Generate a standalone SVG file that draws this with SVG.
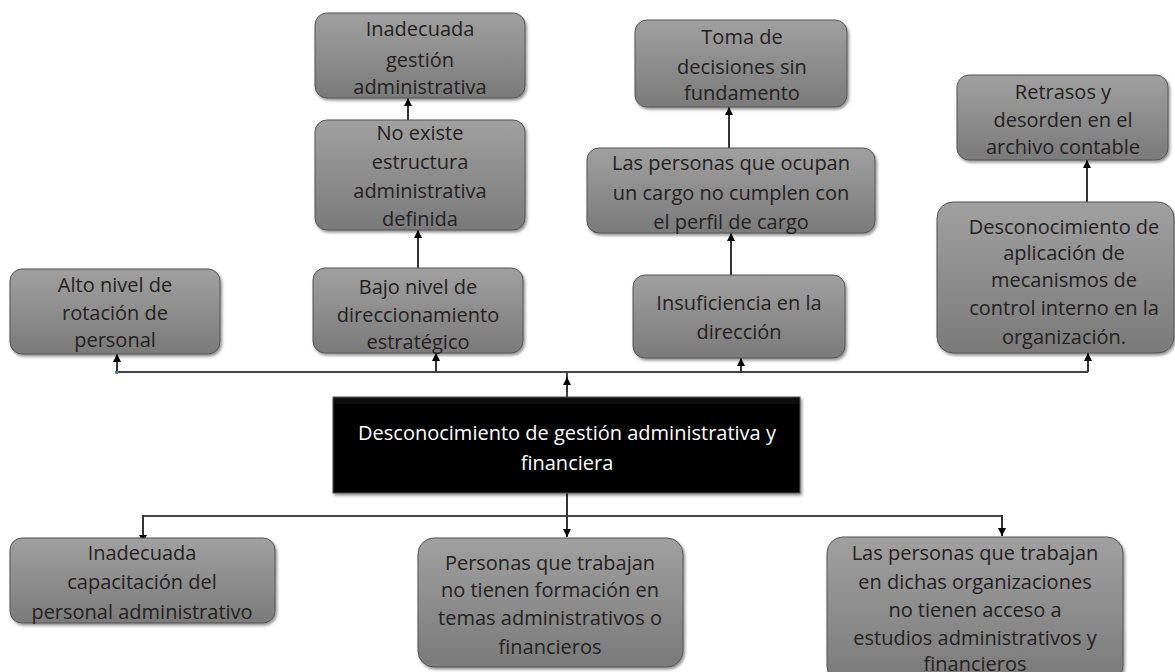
<svg xmlns="http://www.w3.org/2000/svg" width="1175" height="672" viewBox="0 0 1175 672">
<defs>
<linearGradient id="g" x1="0" y1="0" x2="0" y2="1"><stop offset="0" stop-color="#a0a0a0"/><stop offset="1" stop-color="#7a7a7a"/></linearGradient>
<linearGradient id="gb" x1="0" y1="0" x2="0" y2="1"><stop offset="0" stop-color="#111"/><stop offset="0.12" stop-color="#000"/><stop offset="1" stop-color="#000"/></linearGradient>
<filter id="sh" x="-10%" y="-10%" width="125%" height="130%"><feDropShadow dx="1.5" dy="2" stdDeviation="1.5" flood-color="#000" flood-opacity="0.45"/></filter>
<marker id="ah" viewBox="0 0 10 10" refX="10" refY="5" markerWidth="8" markerHeight="8" markerUnits="userSpaceOnUse" orient="auto"><path d="M0,0 L10,5 L0,10 z" fill="#000"/></marker>
</defs>
<style>
.box{fill:url(#g);stroke:#555;stroke-width:1;filter:url(#sh)}
.t{font-family:"Open Sans","Noto Sans",sans-serif;font-size:20px;fill:#262222;text-anchor:middle}
.w{font-family:"Open Sans","Noto Sans",sans-serif;font-size:20px;fill:#fff;text-anchor:middle}
.c{fill:none;stroke:#444;stroke-width:2}
.a{fill:none;stroke:#333;stroke-width:2;marker-end:url(#ah)}
</style>
<rect width="1175" height="672" fill="#fff"/>
<g id="connectors">
<path class="c" d="M117 372 H1088"/>
<path class="a" d="M117 372 V354"/>
<path class="a" d="M436 372 V353"/>
<path class="c" d="M567 397 V372"/>
<path class="a" d="M567 392 V377"/>
<path class="a" d="M741 372 V358"/>
<path class="a" d="M1088 372 V353"/>
<path class="a" d="M408 120 V98"/>
<path class="a" d="M418 268 V230"/>
<path class="a" d="M729 148 V107"/>
<path class="a" d="M731 275 V233"/>
<path class="a" d="M1087 202 V160"/>
<path class="a" d="M567 493 V537"/>
<path class="c" d="M143 516 H1002"/>
<path class="a" d="M143 515 V543"/>
<path class="a" d="M1002 515 V536"/>
<rect x="115" y="371" width="3" height="3" fill="#4a7fd6"/>
</g>
<g id="n_alto">
<rect class="box" x="10" y="269" width="210" height="85" rx="12"/>
<text class="t" x="115" y="292">Alto nivel de</text>
<text class="t" x="115" y="320">rotación de</text>
<text class="t" x="115" y="347">personal</text>
</g>
<g id="n_inadecuada_gestion">
<rect class="box" x="315" y="13" width="210" height="85" rx="12"/>
<text class="t" x="420" y="36">Inadecuada</text>
<text class="t" x="420" y="67">gestión</text>
<text class="t" x="420" y="94">administrativa</text>
</g>
<g id="n_no_existe">
<rect class="box" x="315" y="120" width="210" height="110" rx="12"/>
<text class="t" x="420" y="140">No existe</text>
<text class="t" x="420" y="169">estructura</text>
<text class="t" x="420" y="198">administrativa</text>
<text class="t" x="420" y="226">definida</text>
</g>
<g id="n_bajo">
<rect class="box" x="313" y="268" width="210" height="85" rx="12"/>
<text class="t" x="418" y="294">Bajo nivel de</text>
<text class="t" x="418" y="322">direccionamiento</text>
<text class="t" x="418" y="349">estratégico</text>
</g>
<g id="n_toma">
<rect class="box" x="635" y="20" width="212" height="87" rx="12"/>
<text class="t" x="742" y="44">Toma de</text>
<text class="t" x="742" y="74">decisiones sin</text>
<text class="t" x="742" y="100">fundamento</text>
</g>
<g id="n_personas_cargo">
<rect class="box" x="587" y="148" width="288" height="85" rx="12"/>
<text class="t" x="731" y="170">Las personas que ocupan</text>
<text class="t" x="731" y="200">un cargo no cumplen con</text>
<text class="t" x="731" y="229">el perfil de cargo</text>
</g>
<g id="n_insuficiencia">
<rect class="box" x="633" y="275" width="212" height="83" rx="12"/>
<text class="t" x="739" y="310">Insuficiencia en la</text>
<text class="t" x="739" y="339">dirección</text>
</g>
<g id="n_retrasos">
<rect class="box" x="957" y="75" width="211" height="85" rx="12"/>
<text class="t" x="1063" y="99">Retrasos y</text>
<text class="t" x="1063" y="127">desorden en el</text>
<text class="t" x="1063" y="154">archivo contable</text>
</g>
<g id="n_desconocimiento_control">
<rect class="box" x="937" y="202" width="237" height="151" rx="16"/>
<text class="t" x="1064" y="234">Desconocimiento de</text>
<text class="t" x="1064" y="260">aplicación de</text>
<text class="t" x="1064" y="287">mecanismos de</text>
<text class="t" x="1064" y="315">control interno en la</text>
<text class="t" x="1064" y="344">organización.</text>
</g>
<g id="n_central">
<rect x="333" y="397" width="467" height="96" fill="url(#gb)" stroke="#555" stroke-width="1" filter="url(#sh)"/>
<text class="w" x="567" y="440">Desconocimiento de gestión administrativa y</text>
<text class="w" x="567" y="470">financiera</text>
</g>
<g id="n_capacitacion">
<rect class="box" x="10" y="538" width="265" height="85" rx="12"/>
<text class="t" x="142" y="560">Inadecuada</text>
<text class="t" x="142" y="589">capacitación del</text>
<text class="t" x="142" y="619">personal administrativo</text>
</g>
<g id="n_formacion">
<rect class="box" x="418" y="538" width="265" height="129" rx="16"/>
<text class="t" x="550" y="570">Personas que trabajan</text>
<text class="t" x="550" y="597">no tienen formación en</text>
<text class="t" x="550" y="625">temas administrativos o</text>
<text class="t" x="550" y="654">financieros</text>
</g>
<g id="n_acceso">
<rect class="box" x="827" y="537" width="296" height="145" rx="16"/>
<text class="t" x="975" y="560">Las personas que trabajan</text>
<text class="t" x="975" y="589">en dichas organizaciones</text>
<text class="t" x="975" y="617">no tienen acceso a</text>
<text class="t" x="975" y="645">estudios administrativos y</text>
<text class="t" x="975" y="671">financieros</text>
</g>
</svg>
